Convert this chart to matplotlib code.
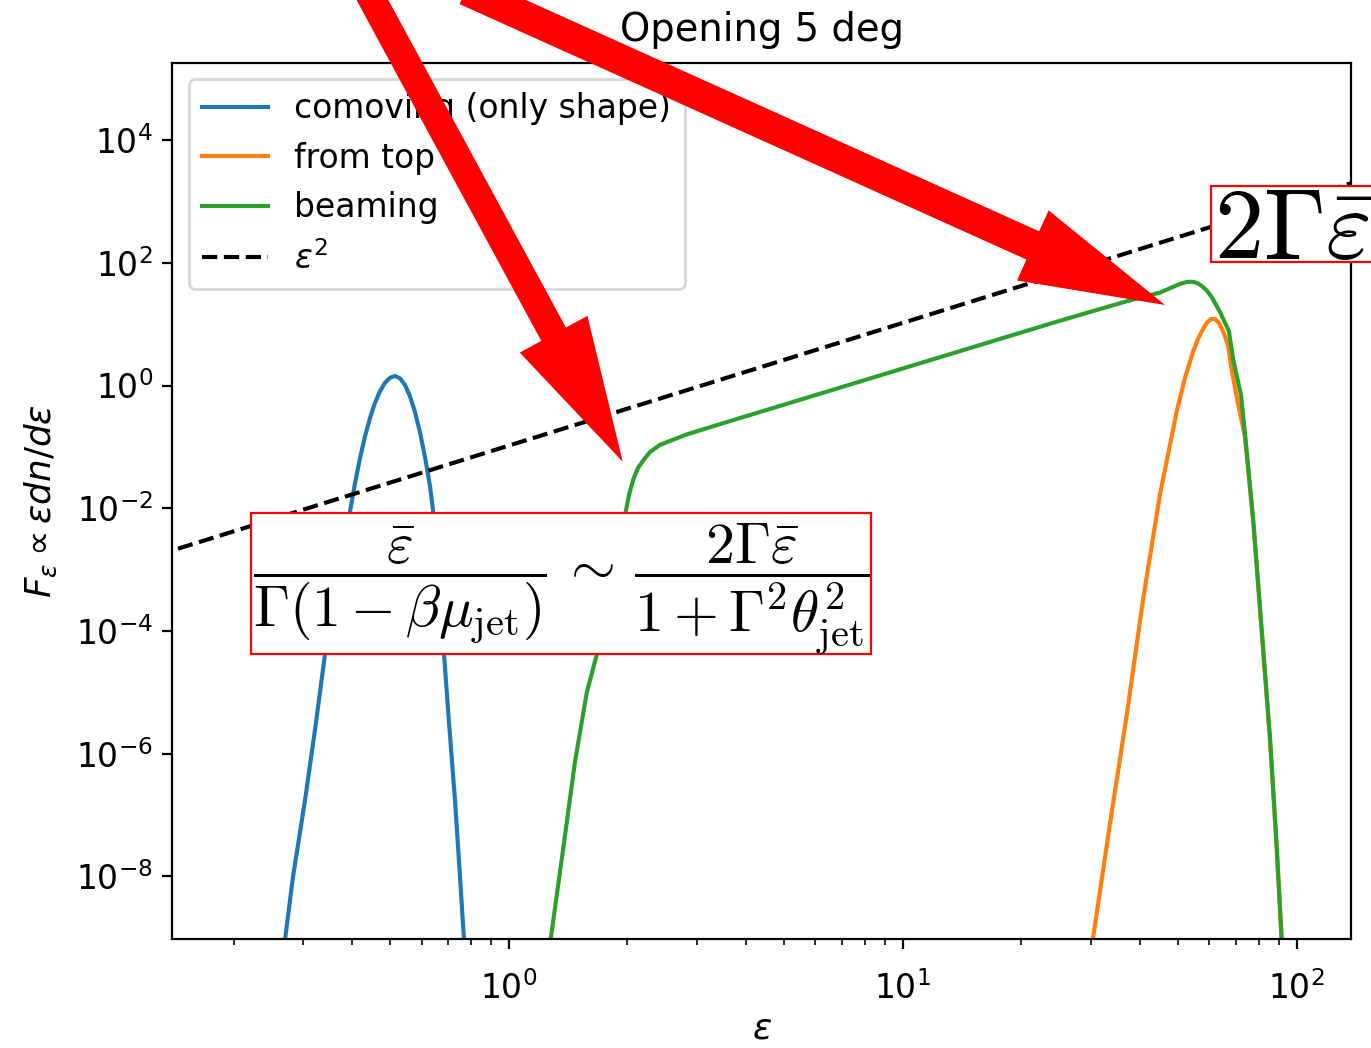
import matplotlib
matplotlib.use("Agg")
import matplotlib.pyplot as plt
from matplotlib.patches import FancyArrow, Rectangle
from matplotlib.transforms import Affine2D
from matplotlib.ticker import NullLocator, FixedLocator

W, H, DPI = 1371, 1048, 198

# ---------------- data ----------------
comoving_eps = [0.2577, 0.2701, 0.2830, 0.3037, 0.3237, 0.3413, 0.3683, 0.3950,
                0.4067, 0.4188, 0.4312, 0.4440, 0.4571, 0.4709, 0.4846, 0.4991,
                0.5138, 0.5291, 0.5448, 0.5610, 0.5775, 0.5947, 0.6123, 0.6306,
                0.6416, 0.6606, 0.6843, 0.7047, 0.7297, 0.7514, 0.7692, 0.7873]
comoving_F = [9.64e-11, 9.16e-10, 9.75e-9, 1.75e-7, 3.16e-6, 4.20e-5, 6.76e-4, 8.77e-3,
              2.556e-2, 6.556e-2, 0.1486, 0.2963, 0.5224, 0.8104, 1.111, 1.340,
              1.428, 1.310, 1.019, 0.6668, 0.370, 0.1726, 6.83e-2, 2.275e-2,
              9.35e-3, 7.85e-4, 4.20e-5, 3.16e-6, 1.75e-7, 9.75e-9, 9.16e-10, 9.64e-11]

top_eps = [28.83, 30.45, 33.57, 37.02, 40.78, 44.98, 49.57, 52.04, 54.65, 56.16,
           57.83, 59.20, 60.60, 62.03, 63.50, 65.01, 66.94, 68.39, 70.83, 73.92,
           77.58, 81.48, 85.53, 88.95, 91.59, 93.11]
top_F = [9.6e-11, 1.04e-9, 7.18e-8, 4.21e-6, 3.41e-4, 1.69e-2, 0.373, 1.325, 3.65, 5.73,
         8.34, 10.64, 12.13, 12.13, 10.44, 7.73, 4.57, 1.79, 0.538, 0.145,
         6.0e-3, 1.0e-4, 1.75e-6, 3.0e-8, 9.0e-10, 9.0e-11]

beam_eps = [1.2155, 1.2770, 1.3745, 1.4719, 1.5761, 1.6706, 1.8159, 1.9831, 2.018,
            2.0697, 2.127, 2.1942, 2.281, 2.4184, 2.8284, 3.4356, 5.4828, 9.838,
            17.65, 25.07, 37.02, 44.98, 50.53, 52.46, 54.13, 55.19, 56.49, 57.83,
            59.09, 60.95, 63.88, 67.27, 69.04, 72.2, 73.92, 77.58, 81.48, 85.53,
            88.95, 91.59, 93.11]
beam_F = [9.6e-11, 9.5e-10, 2.92e-8, 7.4e-7, 9.84e-6, 4.07e-5, 6.0e-4, 9.27e-3, 1.64e-2,
          2.97e-2, 4.52e-2, 6.04e-2, 8.24e-2, 0.1079, 0.1596, 0.2349, 0.585, 1.837,
          5.75, 11.38, 23.65, 32.8, 45.3, 48.6, 49.2, 48.1, 45.1, 40.3,
          35.5, 27.2, 15.78, 7.73, 2.63, 0.700, 0.165, 6.37e-3, 1.09e-4, 1.87e-6,
          3.19e-8, 9.44e-10, 9.6e-11]

eps2_eps = [0.1445, 137.3]
eps2_F = [2.19e-3, 1.98e3]

labels = ["comoving (only shape)", "from top", "beaming", r"$\varepsilon^2$"]
y_ticks = [1e-8, 1e-6, 1e-4, 1e-2, 1e0, 1e2, 1e4]

# ---------------- figure ----------------
plt.rcParams["legend.fontsize"] = 12
fig = plt.figure(figsize=(W / DPI, H / DPI), dpi=DPI)
left, right = 172.2 / W, 1350.9 / W
bottom, top = 1 - 939.3 / H, 1 - 62.7 / H
ax = fig.add_axes([left, bottom, right - left, top - bottom])

ax.loglog(comoving_eps, comoving_F, color="#1f77b4", label=labels[0])
ax.loglog(top_eps, top_F, color="#ff7f0e", label=labels[1])
ax.loglog(beam_eps, beam_F, color="#2ca02c", label=labels[2])
ax.loglog(eps2_eps, eps2_F, "k--", label=labels[3])

ax.set_xlim(0.1397, 137.3)
ax.set_ylim(9.4e-10, 1.83e5)
ax.yaxis.set_major_locator(FixedLocator(y_ticks))
ax.yaxis.set_minor_locator(NullLocator())
ax.tick_params(labelsize=12)
ax.tick_params(axis="x", which="major", pad=8)
ax.set_xlabel(r"$\varepsilon$", fontsize=13, labelpad=2)
ax.set_ylabel(r"$F_\varepsilon \propto \varepsilon dn/d\varepsilon$", fontsize=13, labelpad=6)
ax.set_title("Opening 5 deg", fontsize=14, pad=8)
ax.legend(loc="upper left")

# ---------------- overlaid annotations (pixel coordinates, y downward) ----------------
pix = Affine2D().scale(1, -1).translate(0, H)

def arrow(x0, y0, x1, y1, width):
    a = FancyArrow(x0, y0, x1 - x0, y1 - y0, width=width, head_width=77,
                   head_length=145, length_includes_head=True,
                   color="#ff0000", linewidth=0, transform=pix, zorder=10)
    fig.add_artist(a)

arrow(367, -10, 622.7, 461.7, 28)
arrow(466, -10, 1165, 305, 31)

box1 = Rectangle((251, 513), 620, 141, transform=pix, facecolor="white",
                 edgecolor="#ff0000", linewidth=0.8, zorder=11)
fig.add_artist(box1)
fig.text(561, 589,
         r"$\dfrac{\bar{\varepsilon}}{\Gamma(1-\beta\mu_{\rm jet})}\,\sim\,"
         r"\dfrac{2\Gamma\bar{\varepsilon}}{1+\Gamma^2\theta_{\rm jet}^2}$",
         transform=pix, ha="center", va="center", fontsize=21,
         math_fontfamily="cm", zorder=12)

box2 = Rectangle((1211, 186), 220, 76, transform=pix, facecolor="white",
                 edgecolor="#ff0000", linewidth=0.8, zorder=11)
fig.add_artist(box2)
fig.text(1214, 258, r"$2\Gamma\bar{\varepsilon}$", transform=pix,
         ha="left", va="baseline", fontsize=36, math_fontfamily="cm", zorder=12)

fig.savefig("out.png", dpi=DPI)
